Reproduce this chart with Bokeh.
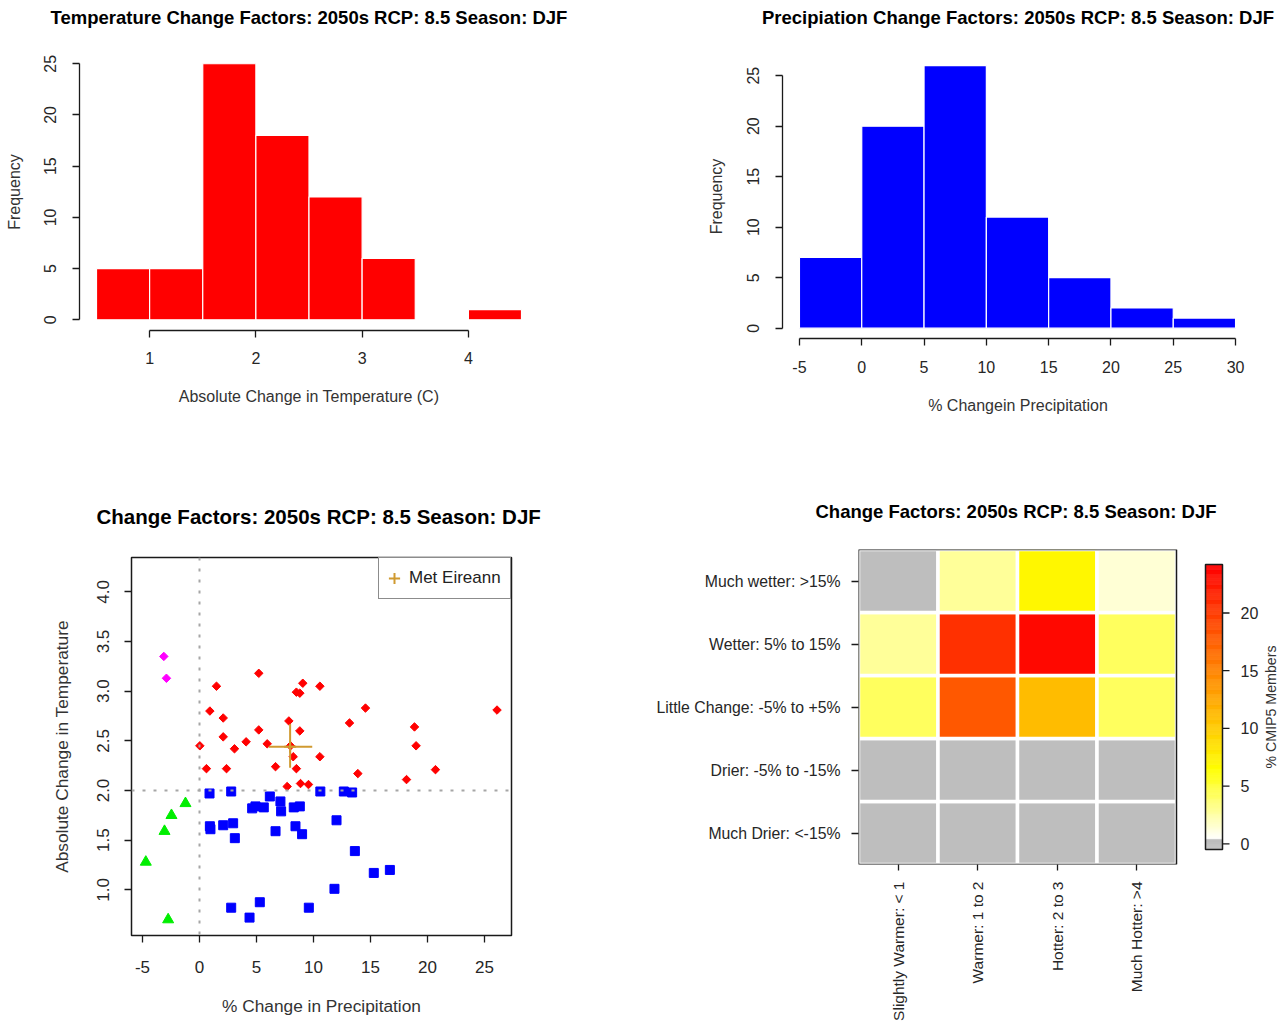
import colorsys
import math

from bokeh.core.properties import value
from bokeh.embed import file_html
from bokeh.layouts import column, row
from bokeh.models import (ColumnDataSource, FixedTicker, Legend, LegendItem,
                          LinearColorMapper, PrintfTickFormatter, Range1d, Span,
                          Title)
from bokeh.plotting import figure
from bokeh.resources import INLINE
from bokeh.transform import transform

FONT = "Liberation Sans"
INK = "#1a1a1a"

# ---------------------------------------------------------------- data
# Histogram of absolute temperature change (C)
temp_edges = [0.5, 1.0, 1.5, 2.0, 2.5, 3.0, 3.5, 4.0, 4.5]
temp_counts = [5, 5, 25, 18, 12, 6, 0, 1]

# Histogram of % change in precipitation
precip_edges = [-5, 0, 5, 10, 15, 20, 25, 30]
precip_counts = [7, 20, 26, 11, 5, 2, 1]

# Scatter: ensemble members grouped by quadrant
hot_wet_p = [0.03, 0.61, 0.91, 1.49, 2.08, 2.08, 2.37, 3.07, 4.09, 5.20, 5.20,
             5.94, 6.67, 7.84, 7.69, 7.98, 8.22, 8.50, 8.80, 8.50, 8.80, 9.06,
             8.86, 9.56, 10.56, 10.56, 13.16, 14.56, 13.89, 18.16, 18.86, 19.00,
             20.70, 26.10]
hot_wet_t = [2.45, 2.22, 2.80, 3.05, 2.73, 2.54, 2.22, 2.42, 2.49, 2.61, 3.18,
             2.47, 2.24, 2.70, 2.04, 2.45, 2.34, 2.22, 2.60, 2.99, 2.98, 3.08,
             2.07, 2.06, 3.05, 2.34, 2.68, 2.83, 2.17, 2.11, 2.64, 2.45,
             2.21, 2.81]

mild_wet_p = [0.88, 2.78, 0.91, 0.96, 2.08, 2.95, 3.10, 4.62, 4.91, 5.64, 6.17,
              7.10, 7.16, 6.67, 8.27, 8.80, 8.42, 9.00, 10.60, 12.66, 13.39,
              12.02, 13.63, 15.29, 16.70, 11.84, 2.78, 4.39, 5.29, 9.59]
mild_wet_t = [1.97, 1.99, 1.64, 1.61, 1.65, 1.67, 1.52, 1.82, 1.84, 1.83, 1.94,
              1.89, 1.79, 1.59, 1.83, 1.84, 1.64, 1.56, 1.99, 1.99, 1.98,
              1.70, 1.39, 1.17, 1.20, 1.01, 0.82, 0.72, 0.875, 0.82]

hot_dry_p = [-3.13, -2.90]
hot_dry_t = [3.35, 3.13]

mild_dry_p = [-1.23, -2.46, -3.07, -4.71, -2.75]
mild_dry_t = [1.87, 1.75, 1.59, 1.28, 0.70]

# Met Eireann estimate with its range
met_p, met_t = 7.95, 2.44
met_p_range = [6.08, 9.89]
met_t_range = [2.23, 2.67]

# Heat map: % of CMIP5 members per class
temp_classes = ["Slightly Warmer: < 1", "Warmer: 1 to 2", "Hotter: 2 to 3",
                "Much Hotter: >4"]
precip_classes = ["Much Drier: <-15%", "Drier: -5% to -15%",
                  "Little Change: -5% to +5%", "Wetter: 5% to 15%",
                  "Much wetter: >15%"]
pct_much_drier = [0.0, 0.0, 0.0, 0.0]
pct_drier = [0.0, 0.0, 0.0, 0.0]
pct_little_change = [4.17, 18.06, 11.11, 4.17]
pct_wetter = [2.78, 20.83, 23.61, 4.17]
pct_much_wetter = [0.0, 2.78, 6.94, 1.39]

cbar_low, cbar_high = -0.49, 24.2
cbar_ticks = [0, 5, 10, 15, 20]


# ---------------------------------------------------------------- helpers
def hsv_hex(h, s, v):
    r, g, b = colorsys.hsv_to_rgb(h, s, v)
    return "#%02x%02x%02x" % (round(r * 255), round(g * 255), round(b * 255))


def heat_colors(n):
    j = n // 4
    i = n - j
    cols = [hsv_hex((k / (i - 1)) / 6.0, 1, 1) for k in range(i)]
    s0, s1 = 1 - 1 / (2 * j), 1 / (2 * j)
    cols += [hsv_hex(1 / 6.0, s0 + k * (s1 - s0) / (j - 1), 1) for k in range(j)]
    return cols


def make_fig(w, h, xr, yr, left, right, top, bottom, **kw):
    p = figure(width=w, height=h, x_range=xr, y_range=yr,
               output_backend="svg", toolbar_location=None,
               min_border_left=left, min_border_right=right,
               min_border_top=top, min_border_bottom=bottom, **kw)
    p.frame_align = False
    p.xgrid.visible = False
    p.ygrid.visible = False
    p.outline_line_color = None
    p.background_fill_color = "white"
    p.border_fill_color = "white"
    return p


def style_axis(ax, tick_size, label_size, tick_standoff, label_standoff):
    ax.axis_line_color = INK
    ax.axis_line_width = 1.3
    ax.major_tick_line_color = INK
    ax.major_tick_line_width = 1.3
    ax.major_tick_in = 0
    ax.major_tick_out = 7
    ax.minor_tick_line_color = None
    ax.major_label_text_font = FONT
    ax.major_label_text_font_size = tick_size
    ax.major_label_text_color = "#262626"
    ax.major_label_standoff = tick_standoff
    ax.axis_label_text_font = FONT
    ax.axis_label_text_font_size = label_size
    ax.axis_label_text_font_style = "normal"
    ax.axis_label_text_color = "#333333"
    ax.axis_label_standoff = label_standoff


def add_title(p, text, size, gap, align="center", offset=0):
    # a blank spacer sits between the frame and the heading
    p.add_layout(Title(text=" ", text_font_size="12px", standoff=gap), "above")
    p.add_layout(Title(text=text, align=align, offset=offset, text_font=FONT,
                       text_font_size=size, text_font_style="bold",
                       text_color="black", standoff=4), "above")


# ---------------------------------------------------------------- temperature histogram
p1 = make_fig(644, 460, Range1d(0.34, 4.66), Range1d(-1.045, 26.0),
              79, 106, 53, 130)
p1.quad(left=temp_edges[:-1], right=temp_edges[1:], bottom=0, top=temp_counts,
        fill_color="#ff0000", line_color="white", line_width=1.2)
add_title(p1, "Temperature Change Factors: 2050s RCP: 8.5 Season: DJF",
          "18.5px", 7.5)
style_axis(p1.xaxis[0], "16px", "16px", 14, 21)
style_axis(p1.yaxis[0], "16px", "16px", 16, 19)
p1.xaxis[0].ticker = FixedTicker(ticks=[1, 2, 3, 4])
p1.xaxis[0].bounds = (1, 4)
p1.xaxis[0].axis_label = "Absolute Change in Temperature (C)"
p1.yaxis[0].ticker = FixedTicker(ticks=[0, 5, 10, 15, 20, 25])
p1.yaxis[0].bounds = (0, 25)
p1.yaxis[0].major_label_orientation = "vertical"
p1.yaxis[0].axis_label = "Frequency"

# ---------------------------------------------------------------- precipitation histogram
p2 = make_fig(644, 460, Range1d(-6.36, 31.44), Range1d(-1.02, 27.1),
              138, 35, 54, 122)
p2.quad(left=precip_edges[:-1], right=precip_edges[1:], bottom=0,
        top=precip_counts, fill_color="#0000ff", line_color="white",
        line_width=1.2)
add_title(p2, "Precipiation Change Factors: 2050s RCP: 8.5 Season: DJF",
          "18.5px", 8.5)
style_axis(p2.xaxis[0], "16px", "16px", 15, 21)
style_axis(p2.yaxis[0], "16px", "16px", 16, 20)
p2.xaxis[0].ticker = FixedTicker(ticks=precip_edges)
p2.xaxis[0].formatter = PrintfTickFormatter(format="%d")
p2.xaxis[0].bounds = (-5, 30)
p2.xaxis[0].axis_label = "% Changein Precipitation"
p2.yaxis[0].ticker = FixedTicker(ticks=[0, 5, 10, 15, 20, 25])
p2.yaxis[0].bounds = (0, 25)
p2.yaxis[0].major_label_orientation = "vertical"
p2.yaxis[0].axis_label = "Frequency"

# ---------------------------------------------------------------- scatter
p3 = make_fig(644, 563, Range1d(-5.965, 27.37), Range1d(0.540, 4.346),
              131, 133, 97, 88)
p3.outline_line_color = INK
p3.outline_line_width = 1.5
add_title(p3, "Change Factors:  2050s RCP: 8.5 Season: DJF", "20.5px", 12.4)
style_axis(p3.xaxis[0], "17px", "17.3px", 18, 20)
style_axis(p3.yaxis[0], "17px", "17.3px", 15, 23)
p3.xaxis[0].axis_line_color = None
p3.yaxis[0].axis_line_color = None
p3.xaxis[0].ticker = FixedTicker(ticks=[-5, 0, 5, 10, 15, 20, 25])
p3.xaxis[0].formatter = PrintfTickFormatter(format="%d")
p3.xaxis[0].axis_label = "% Change in Precipitation"
p3.yaxis[0].ticker = FixedTicker(ticks=[1.0, 1.5, 2.0, 2.5, 3.0, 3.5, 4.0])
p3.yaxis[0].formatter = PrintfTickFormatter(format="%.1f")
p3.yaxis[0].major_label_orientation = "vertical"
p3.yaxis[0].axis_label = "Absolute Change in Temperature"

for loc, dim in ((0, "height"), (2.0, "width")):
    p3.add_layout(Span(location=loc, dimension=dim, line_color="#a6a6a6",
                       line_width=2, line_dash="3 8"))

p3.scatter(mild_wet_p, mild_wet_t, marker="square", size=9,
           fill_color="#0000ff", line_color="#0000ff")
p3.scatter(mild_dry_p, mild_dry_t, marker="triangle", size=11,
           fill_color="#00ee00", line_color="#00ee00")
p3.scatter(hot_dry_p, hot_dry_t, marker="square", angle=math.pi / 4, size=6,
           fill_color="#ff00ff", line_color="#ff00ff")
p3.scatter(hot_wet_p, hot_wet_t, marker="square", angle=math.pi / 4, size=6,
           fill_color="#ff0000", line_color="#ff0000")

GOLD = "#d09a30"
p3.segment(x0=[met_p_range[0], met_p], y0=[met_t, met_t_range[0]],
           x1=[met_p_range[1], met_p], y1=[met_t, met_t_range[1]],
           line_color=GOLD, line_width=2)
met_r = p3.scatter([met_p], [met_t], marker="cross", size=12,
                   line_color=GOLD, line_width=2)

legend = Legend(items=[LegendItem(label="Met Eireann", renderers=[met_r])],
                location="top_right", margin=0, padding=1, spacing=0,
                glyph_width=28, glyph_height=38, label_height=38,
                label_width=100, label_standoff=1,
                border_line_color=INK, border_line_width=1.5,
                background_fill_color="white", background_fill_alpha=1,
                label_text_font=FONT, label_text_font_size="17px",
                label_text_color="#222222")
p3.add_layout(legend)

# ---------------------------------------------------------------- heat map + colour bar
n_grey, n_heat = 10, 256
palette = ["#bebebe"] * n_grey + heat_colors(n_heat)[::-1]
mapper = LinearColorMapper(palette=palette, low=cbar_low, high=cbar_high)

rows = [pct_much_drier, pct_drier, pct_little_change, pct_wetter, pct_much_wetter]
cell_x, cell_y, cell_v = [], [], []
for ri, vals in enumerate(rows):
    for ci, v in enumerate(vals):
        cell_x.append(ci + 0.5)
        cell_y.append(ri + 0.5)
        cell_v.append(v)
cells = ColumnDataSource(dict(x=cell_x, y=cell_y, pct=cell_v))

n_cols, n_rows = len(temp_classes), len(precip_classes)
col_px = 79.5                                 # pixel width of one grid column
bar_x0 = n_cols + 29 / col_px                 # colour strip beside the grid
bar_x1 = n_cols + 46 / col_px
tick_x1 = bar_x1 + 7 / col_px
tick_label_x = n_cols + 64 / col_px
bar_title_x = n_cols + 94 / col_px
x_end = n_cols + 111 / col_px

p4 = make_fig(644, 563, Range1d(0, x_end), Range1d(0, n_rows),
              214, 1, 89, 158)
cb_range = Range1d(-1.788, 25.50)
p4.extra_y_ranges = {"cbar": cb_range}
p4.rect(x="x", y="y", width=1, height=1, source=cells,
        fill_color=transform("pct", mapper), line_color="white", line_width=3.5)
p4.quad(left=0, right=n_cols, bottom=0, top=n_rows, fill_color=None,
        line_color=INK, line_width=1.5)

step = (cbar_high - cbar_low) / len(palette)
p4.quad(left=bar_x0, right=bar_x1,
        bottom=[cbar_low + k * step for k in range(len(palette))],
        top=[cbar_low + (k + 1) * step for k in range(len(palette))],
        fill_color=palette, line_color=palette, line_width=0.5,
        y_range_name="cbar")
p4.quad(left=bar_x0, right=bar_x1, bottom=cbar_low, top=cbar_high,
        fill_color=None, line_color=INK, line_width=1.5, y_range_name="cbar")
p4.segment(x0=bar_x1, x1=tick_x1, y0=cbar_ticks, y1=cbar_ticks,
           line_color=INK, line_width=1.3, y_range_name="cbar")
p4.text(x=tick_label_x, y=cbar_ticks, text=[str(t) for t in cbar_ticks],
        text_font=value(FONT), text_font_size="16px", text_color="#262626",
        text_align="left", text_baseline="middle", y_range_name="cbar")
p4.text(x=[bar_title_x], y=[(cb_range.start + cb_range.end) / 2],
        text=["% CMIP5 Members"], angle=math.pi / 2,
        text_font=value(FONT), text_font_size="14.2px", text_color="#333333",
        text_align="center", text_baseline="middle", y_range_name="cbar")

add_title(p4, "Change Factors: 2050s RCP: 8.5 Season: DJF", "18.5px", 9.5,
          align="left", offset=-43)
style_axis(p4.xaxis[0], "15.5px", "15.5px", 11, 10)
style_axis(p4.yaxis[0], "15.8px", "15.8px", 11, 10)
p4.xaxis[0].axis_line_color = None
p4.yaxis[0].axis_line_color = None
p4.xaxis[0].ticker = FixedTicker(ticks=[i + 0.5 for i in range(n_cols)])
p4.xaxis[0].major_label_overrides = {i + 0.5: t for i, t in enumerate(temp_classes)}
p4.xaxis[0].major_label_orientation = math.pi / 2
p4.xaxis[0].major_tick_out = 6
p4.yaxis[0].ticker = FixedTicker(ticks=[i + 0.5 for i in range(n_rows)])
p4.yaxis[0].major_label_overrides = {i + 0.5: t for i, t in enumerate(precip_classes)}

layout = column(row(p1, p2), row(p3, p4))
open("out.html", "w").write(file_html(layout, INLINE))
